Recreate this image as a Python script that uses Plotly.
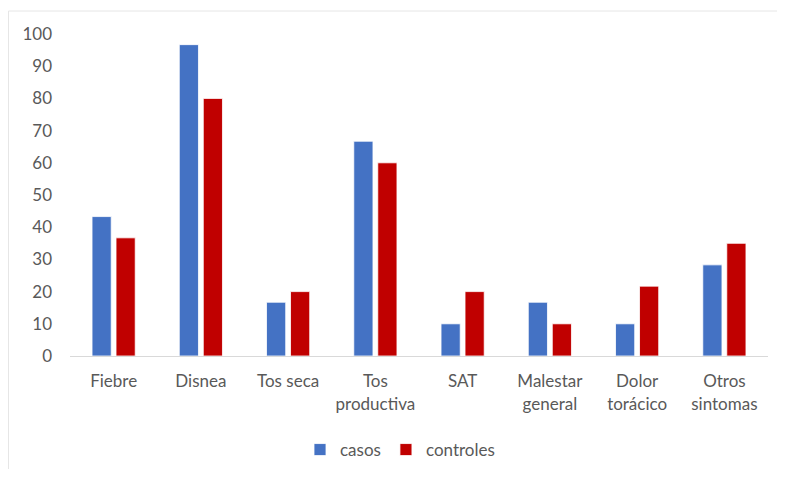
import plotly.graph_objects as go

categories = ["Fiebre", "Disnea", "Tos seca", "Tos<br>productiva", "SAT",
              "Malestar<br>general", "Dolor<br>torácico", "Otros<br>sintomas"]
casos = [43.3, 96.7, 16.7, 66.7, 10.0, 16.7, 10.0, 28.3]
controles = [36.7, 80.0, 20.0, 60.0, 20.0, 10.0, 21.7, 35.0]
y_ticks = [0, 10, 20, 30, 40, 50, 60, 70, 80, 90, 100]

OFF = 8  # page body margin
W, H = 785 - 2 * OFF, 477 - 2 * OFF
# screen coordinates of the plot area
SX0, SX1, SY0, SY1 = 70, 768, 34, 356
L, T = SX0 - OFF, SY0 - OFF
R = (OFF + W) - SX1
B = (OFF + H) - SY1
pw, ph = W - L - R, H - T - B

def px_x(x):
    return (x - SX0) / pw

def px_y(y):
    return (SY1 - y) / ph

font_color = "#595959"
fnt = "Lato, 'Open Sans', sans-serif"
fs = 17

fig = go.Figure()
fig.add_trace(go.Bar(name="casos", x=categories, y=casos,
                     marker=dict(color="#4472C4", line=dict(color="white", width=0.8))))
fig.add_trace(go.Bar(name="controles", x=categories, y=controles,
                     marker=dict(color="#C00000", line=dict(color="white", width=0.8))))

fig.update_layout(
    width=W, height=H,
    margin=dict(l=L, r=R, t=T, b=B, autoexpand=False),
    paper_bgcolor="white", plot_bgcolor="white",
    barmode="group", bargap=0.45, bargroupgap=0.2,
    font=dict(family=fnt, size=fs, color=font_color),
    showlegend=True,
    legend=dict(orientation="h", x=px_x(400), xanchor="center",
                y=px_y(450), yanchor="middle",
                font=dict(size=fs, color=font_color),
                itemwidth=30, tracegroupgap=0),
    xaxis=dict(showgrid=False, showline=True, linecolor="#d9d9d9", linewidth=1,
               ticks="", ticklabelstandoff=10, automargin=False,
               tickfont=dict(size=fs, color=font_color), fixedrange=True),
    yaxis=dict(range=[0, 100], tickvals=y_ticks, showgrid=False, zeroline=False,
               showline=False, ticks="", ticklabelstandoff=17, automargin=False,
               tickfont=dict(size=fs, color=font_color), fixedrange=True),
    shapes=[
        dict(type="line", xref="paper", yref="paper",
             x0=px_x(8.5), x1=px_x(OFF + W), y0=px_y(11), y1=px_y(11),
             line=dict(color="#e6e6e6", width=1)),
        dict(type="line", xref="paper", yref="paper",
             x0=px_x(8.5), x1=px_x(8.5), y0=px_y(11), y1=px_y(OFF + H),
             line=dict(color="#e6e6e6", width=1)),
    ],
)

fig.write_html("out.html")
